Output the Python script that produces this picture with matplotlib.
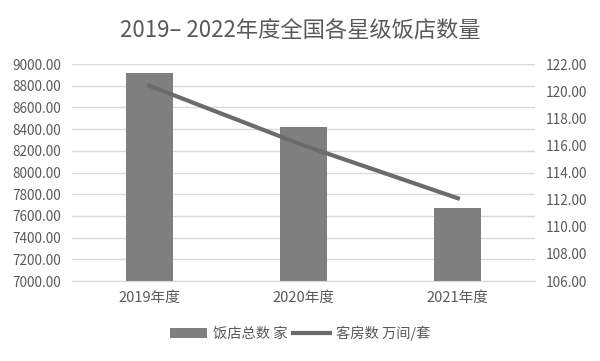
import matplotlib.pyplot as plt

plt.rcParams['font.family'] = ['Noto Sans CJK SC', 'DejaVu Sans']

# 数据
years = ['2019年度', '2020年度', '2021年度']
hotels = [8915, 8420, 7670]
rooms = [120.4, 116.0, 112.1]

text_color = '#595959'

fig = plt.figure(figsize=(6, 3.61), dpi=100)
ax = fig.add_axes([0.12, 0.2216, 0.7717, 0.6011])
ax2 = ax.twinx()

x = range(len(years))
ax.bar(x, hotels, width=0.305, color='#7f7f7f', label='饭店总数 家', zorder=2)
ax2.plot(x, rooms, color='#6b6b6b', linewidth=3, label='客房数 万间/套', zorder=3)

ax.set_xlim(-0.5, 2.5)
ax.set_ylim(7000, 9000)
ax.set_yticks(range(7000, 9001, 200))
ax.set_yticklabels([f'{v:.2f}' for v in range(7000, 9001, 200)])
ax2.set_ylim(106, 122)
ax2.set_yticks(range(106, 123, 2))
ax2.set_yticklabels([f'{v:.2f}' for v in range(106, 123, 2)])

ax.set_xticks(list(x))
ax.set_xticklabels(years)

ax.grid(axis='y', color='#d9d9d9', linewidth=1, zorder=0)
for a in (ax, ax2):
    for s in a.spines.values():
        s.set_visible(False)
    a.tick_params(length=0, labelsize=9.8, colors=text_color, pad=8)
ax.tick_params(axis='x', labelsize=10.5, pad=7)
ax.spines['bottom'].set_visible(True)
ax.spines['bottom'].set_color('#d9d9d9')

fig.suptitle('2019– 2022年度全国各星级饭店数量', y=0.945, fontsize=16, color=text_color)

h1, l1 = ax.get_legend_handles_labels()
h2, l2 = ax2.get_legend_handles_labels()
fig.legend(h1 + h2, l1 + l2, loc='center', bbox_to_anchor=(0.5, 0.077), ncol=2,
           frameon=False, fontsize=10.3, labelcolor=text_color,
           handlelength=2.6, columnspacing=0.4, handletextpad=0.4)

fig.savefig('out.png', dpi=100)
